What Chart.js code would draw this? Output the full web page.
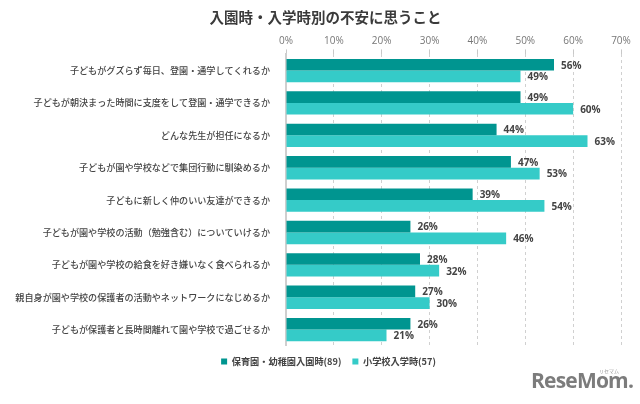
<!DOCTYPE html>
<html>
<head>
<meta charset="utf-8">
<script src="https://cdn.jsdelivr.net/npm/chart.js@4"></script>
<style>
  html, body { margin: 0; padding: 0; background: #fff; }
  #wrap { position: relative; width: 640px; height: 404px; }
  #logo { position: absolute; left: 531px; top: 366px; font: bold 21px "Open Sans", "DejaVu Sans", sans-serif; color: #7c7c7c; letter-spacing: -0.8px; }
  #logo small { position: absolute; left: 68px; top: 1px; font: 5px "Noto Sans CJK JP"; color: #999; letter-spacing: 0; }
</style>
</head>
<body>
<div id="wrap">
  <canvas id="surveyChart" width="640" height="404"></canvas>
  <div id="logo">ReseMom.<small>リセマム</small></div>
</div>
<script>
// 入園時・入学時別の不安に思うこと
const categories = [
  '子どもがグズらず毎日、登園・通学してくれるか',
  '子どもが朝決まった時間に支度をして登園・通学できるか',
  'どんな先生が担任になるか',
  '子どもが園や学校などで集団行動に馴染めるか',
  '子どもに新しく仲のいい友達ができるか',
  '子どもが園や学校の活動（勉強含む）についていけるか',
  '子どもが園や学校の給食を好き嫌いなく食べられるか',
  '親自身が園や学校の保護者の活動やネットワークになじめるか',
  '子どもが保護者と長時間離れて園や学校で過ごせるか'
];
const nurseryEntry = [56, 49, 44, 47, 39, 26, 28, 27, 26];
const schoolEntry = [49, 60, 63, 53, 54, 46, 32, 30, 21];
const seriesNames = ['保育園・幼稚園入園時(89)', '小学校入学時(57)'];
const xTicks = [0, 10, 20, 30, 40, 50, 60, 70];

const jpFont = '"Noto Sans CJK JP", "Noto Sans", sans-serif';

// value labels at the end of each bar
const barLabels = {
  id: 'barLabels',
  afterDatasetsDraw(chart) {
    const ctx = chart.ctx;
    ctx.save();
    ctx.font = 'bold 10px "Open Sans", "Noto Sans", sans-serif';
    ctx.fillStyle = '#444';
    ctx.textAlign = 'left';
    ctx.textBaseline = 'middle';
    chart.data.datasets.forEach((ds, i) => {
      chart.getDatasetMeta(i).data.forEach((bar, j) => {
        ctx.fillText(ds.data[j] + '%', bar.x + 7, bar.y + 1);
      });
    });
    ctx.restore();
  }
};

// title and legend sit a little right of the canvas centre in the original
const nudgeBoxes = {
  id: 'nudgeBoxes',
  afterLayout(chart) {
    if (chart.titleBlock) { chart.titleBlock.left += 15; chart.titleBlock.right += 15; }
    if (chart.legend) { chart.legend.left += 18; chart.legend.right += 18; }
  }
};

const ctx = document.getElementById('surveyChart').getContext('2d');
const surveyChart = new Chart(ctx, {
  type: 'bar',
  data: {
    labels: categories,
    datasets: [
      { label: seriesNames[0], data: nurseryEntry, backgroundColor: '#009590' },
      { label: seriesNames[1], data: schoolEntry, backgroundColor: '#35cbc8' }
    ]
  },
  options: {
    indexAxis: 'y',
    responsive: false,
    animation: false,
    categoryPercentage: 0.72,
    barPercentage: 1.0,
    layout: { padding: { left: 0, right: 19, top: 0, bottom: 28 } },
    scales: {
      x: {
        position: 'top',
        min: 0,
        max: 70,
        afterBuildTicks(axis) { axis.ticks = xTicks.map(v => ({ value: v })); },
        ticks: {
          callback: v => v + '%',
          color: '#777',
          font: { size: 10, family: '"Open Sans", sans-serif' },
          padding: 2
        },
        grid: { color: '#d0d0d0', tickColor: '#c8c8c8', tickLength: 5, drawTicks: true },
        border: { display: false, dash: [3, 3] }
      },
      y: {
        afterFit(axis) { axis.width = 286; },
        ticks: {
          color: '#444',
          font: { size: 9.1, family: jpFont, weight: '500' },
          padding: 8,
          autoSkip: false
        },
        grid: { display: false },
        border: { display: true, color: '#cfcfcf', width: 2 }
      }
    },
    plugins: {
      title: {
        display: true,
        text: '入園時・入学時別の不安に思うこと',
        color: '#3a3a3a',
        font: { size: 14.5, family: jpFont, weight: '600' },
        padding: { top: 9, bottom: 7 }
      },
      legend: {
        position: 'bottom',
        labels: {
          boxWidth: 6,
          boxHeight: 6,
          color: '#444',
          font: { size: 9.2, family: jpFont, weight: 'bold' },
          padding: 11
        }
      },
      tooltip: { enabled: false }
    }
  },
  plugins: [barLabels, nudgeBoxes]
});
</script>
</body>
</html>
